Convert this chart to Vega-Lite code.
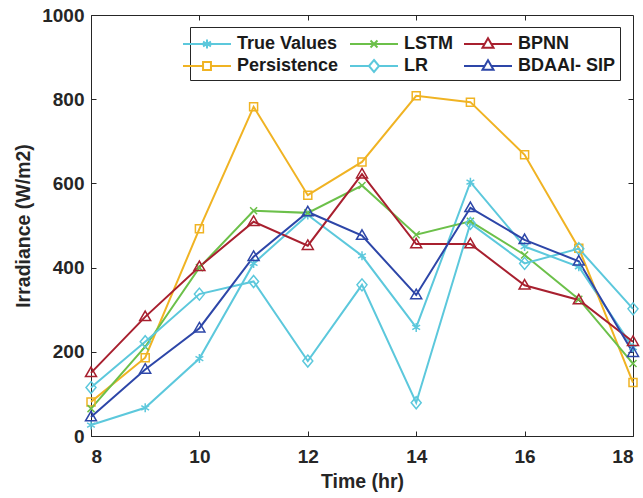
{
  "$schema": "https://vega.github.io/schema/vega-lite/v6.json",
  "autosize": {"type": "none"},
  "padding": {"left": 91, "top": 15, "right": 10, "bottom": 62},
  "width": 542,
  "height": 421,
  "background": "white",
  "config": {
    "font": "Liberation Sans",
    "view": {"stroke": "#262626", "strokeWidth": 1},
    "axis": {
      "grid": false,
      "labelFont": "Liberation Sans",
      "labelFontSize": 19,
      "labelFontWeight": "bold",
      "labelColor": "#262626",
      "titleFont": "Liberation Sans",
      "titleFontSize": 19.5,
      "titleFontWeight": "bold",
      "titleColor": "#262626",
      "domainColor": "#262626",
      "tickColor": "#262626",
      "tickSize": -5,
      "tickWidth": 1
    },
    "point": {"filled": false, "strokeWidth": 1.5, "size": 100, "opacity": 1}
  },
  "data": {
    "values": [
      {"t": 8, "series": "True Values", "v": 26},
      {"t": 9, "series": "True Values", "v": 67},
      {"t": 10, "series": "True Values", "v": 184},
      {"t": 11, "series": "True Values", "v": 410},
      {"t": 12, "series": "True Values", "v": 525},
      {"t": 13, "series": "True Values", "v": 428},
      {"t": 14, "series": "True Values", "v": 258},
      {"t": 15, "series": "True Values", "v": 603},
      {"t": 16, "series": "True Values", "v": 450},
      {"t": 17, "series": "True Values", "v": 402},
      {"t": 18, "series": "True Values", "v": 210},
      {"t": 8, "series": "Persistence", "v": 81},
      {"t": 9, "series": "Persistence", "v": 186},
      {"t": 10, "series": "Persistence", "v": 492},
      {"t": 11, "series": "Persistence", "v": 782},
      {"t": 12, "series": "Persistence", "v": 572},
      {"t": 13, "series": "Persistence", "v": 651},
      {"t": 14, "series": "Persistence", "v": 808},
      {"t": 15, "series": "Persistence", "v": 793},
      {"t": 16, "series": "Persistence", "v": 668},
      {"t": 17, "series": "Persistence", "v": 446},
      {"t": 18, "series": "Persistence", "v": 127},
      {"t": 8, "series": "LSTM", "v": 65},
      {"t": 9, "series": "LSTM", "v": 212},
      {"t": 10, "series": "LSTM", "v": 400},
      {"t": 11, "series": "LSTM", "v": 535},
      {"t": 12, "series": "LSTM", "v": 530},
      {"t": 13, "series": "LSTM", "v": 595},
      {"t": 14, "series": "LSTM", "v": 478},
      {"t": 15, "series": "LSTM", "v": 510},
      {"t": 16, "series": "LSTM", "v": 430},
      {"t": 17, "series": "LSTM", "v": 325},
      {"t": 18, "series": "LSTM", "v": 172},
      {"t": 8, "series": "LR", "v": 115},
      {"t": 9, "series": "LR", "v": 224},
      {"t": 10, "series": "LR", "v": 337},
      {"t": 11, "series": "LR", "v": 367},
      {"t": 12, "series": "LR", "v": 178},
      {"t": 13, "series": "LR", "v": 359},
      {"t": 14, "series": "LR", "v": 79},
      {"t": 15, "series": "LR", "v": 505},
      {"t": 16, "series": "LR", "v": 410},
      {"t": 17, "series": "LR", "v": 445},
      {"t": 18, "series": "LR", "v": 302},
      {"t": 8, "series": "BPNN", "v": 150},
      {"t": 9, "series": "BPNN", "v": 283},
      {"t": 10, "series": "BPNN", "v": 402},
      {"t": 11, "series": "BPNN", "v": 509},
      {"t": 12, "series": "BPNN", "v": 452},
      {"t": 13, "series": "BPNN", "v": 622},
      {"t": 14, "series": "BPNN", "v": 456},
      {"t": 15, "series": "BPNN", "v": 456},
      {"t": 16, "series": "BPNN", "v": 358},
      {"t": 17, "series": "BPNN", "v": 323},
      {"t": 18, "series": "BPNN", "v": 224},
      {"t": 8, "series": "BDAAI- SIP", "v": 45},
      {"t": 9, "series": "BDAAI- SIP", "v": 158},
      {"t": 10, "series": "BDAAI- SIP", "v": 256},
      {"t": 11, "series": "BDAAI- SIP", "v": 426},
      {"t": 12, "series": "BDAAI- SIP", "v": 532},
      {"t": 13, "series": "BDAAI- SIP", "v": 476},
      {"t": 14, "series": "BDAAI- SIP", "v": 335},
      {"t": 15, "series": "BDAAI- SIP", "v": 542},
      {"t": 16, "series": "BDAAI- SIP", "v": 466},
      {"t": 17, "series": "BDAAI- SIP", "v": 415},
      {"t": 18, "series": "BDAAI- SIP", "v": 198}
    ]
  },
  "layer": [
    {
      "mark": {"type": "line", "strokeWidth": 2},
      "encoding": {
        "x": {
          "field": "t", "type": "quantitative", "title": "Time (hr)",
          "scale": {"domain": [8, 18], "nice": false, "zero": false},
          "axis": {"orient": "bottom", "values": [8, 10, 12, 14, 16, 18], "format": "d", "labelPadding": 16, "titlePadding": 6}
        },
        "y": {
          "field": "v", "type": "quantitative", "title": "Irradiance (W/m2)",
          "scale": {"domain": [0, 1000], "nice": false},
          "axis": {"orient": "left", "values": [0, 200, 400, 600, 800, 1000], "format": "d", "labelPadding": 12, "titlePadding": 8}
        },
        "color": {
          "field": "series", "type": "nominal",
          "scale": {
            "domain": ["True Values", "LSTM", "BPNN", "Persistence", "LR", "BDAAI- SIP"],
            "range": ["#5CC8DC", "#6CC04A", "#A8202F", "#F0B323", "#5CC8DC", "#2D46A8"]
          },
          "legend": {
            "title": null,
            "orient": "none",
            "direction": "horizontal",
            "legendX": 99,
            "legendY": 12,
            "columns": 3,
            "columnPadding": 7,
            "rowPadding": 0,
            "padding": 4,
            "strokeColor": "#262626",
            "fillColor": "white",
            "symbolSize": 576,
            "symbolStrokeWidth": 2,
            "labelOffset": 17,
            "labelFont": "Liberation Sans",
            "labelFontSize": 18,
            "labelFontWeight": "bold",
            "labelColor": "#1a1a1a",
            "encoding": {
              "symbols": {
                "fill": {"value": "transparent"},
                "shape": {"value": {"expr": "datum.value === 'True Values' ? 'M-2,0L2,0M0,-0.38L0,0.38M-0.33,-0.19L0.33,0.19M-0.33,0.19L0.33,-0.19' : datum.value === 'LSTM' ? 'M-2,0L2,0M-0.29,-0.29L0.29,0.29M-0.29,0.29L0.29,-0.29' : datum.value === 'Persistence' ? 'M-2,0L-0.33,0M0.33,0L2,0M-0.33,-0.33L0.33,-0.33L0.33,0.33L-0.33,0.33Z' : datum.value === 'LR' ? 'M-2,0L-0.42,0M0.42,0L2,0M0,-0.5L0.42,0L0,0.5L-0.42,0Z' : 'M-2,0L-0.33,0M0.33,0L2,0M0,-0.48L0.46,0.31L-0.46,0.31Z'"}}
              }
            }
          }
        }
      }
    },
    {
      "transform": [{"filter": "datum.series === 'True Values'"}],
      "mark": {"type": "point", "shape": "M0,-0.9L0,0.9M-0.78,-0.45L0.78,0.45M-0.78,0.45L0.78,-0.45"},
      "encoding": {
        "x": {"field": "t", "type": "quantitative", "axis": {"orient": "top", "values": [10, 12, 14, 16], "labels": false, "domain": false, "title": null}},
        "y": {"field": "v", "type": "quantitative", "axis": {"orient": "right", "values": [200, 400, 600, 800], "labels": false, "domain": false, "title": null}},
        "color": {"field": "series", "type": "nominal", "legend": null}
      }
    },
    {
      "transform": [{"filter": "datum.series === 'Persistence'"}],
      "mark": {"type": "point", "shape": "M-0.8,-0.8L0.8,-0.8L0.8,0.8L-0.8,0.8Z"},
      "encoding": {
        "x": {"field": "t", "type": "quantitative", "axis": null},
        "y": {"field": "v", "type": "quantitative", "axis": null},
        "color": {"field": "series", "type": "nominal", "legend": null}
      }
    },
    {
      "transform": [{"filter": "datum.series === 'LSTM'"}],
      "mark": {"type": "point", "shape": "M-0.7,-0.7L0.7,0.7M-0.7,0.7L0.7,-0.7"},
      "encoding": {
        "x": {"field": "t", "type": "quantitative", "axis": null},
        "y": {"field": "v", "type": "quantitative", "axis": null},
        "color": {"field": "series", "type": "nominal", "legend": null}
      }
    },
    {
      "transform": [{"filter": "datum.series === 'LR'"}],
      "mark": {"type": "point", "shape": "M0,-1.2L1,0L0,1.2L-1,0Z"},
      "encoding": {
        "x": {"field": "t", "type": "quantitative", "axis": null},
        "y": {"field": "v", "type": "quantitative", "axis": null},
        "color": {"field": "series", "type": "nominal", "legend": null}
      }
    },
    {
      "transform": [{"filter": "datum.series === 'BPNN' || datum.series === 'BDAAI- SIP'"}],
      "mark": {"type": "point", "shape": "M0,-1.15L1.1,0.75L-1.1,0.75Z"},
      "encoding": {
        "x": {"field": "t", "type": "quantitative", "axis": null},
        "y": {"field": "v", "type": "quantitative", "axis": null},
        "color": {"field": "series", "type": "nominal", "legend": null}
      }
    }
  ]
}
